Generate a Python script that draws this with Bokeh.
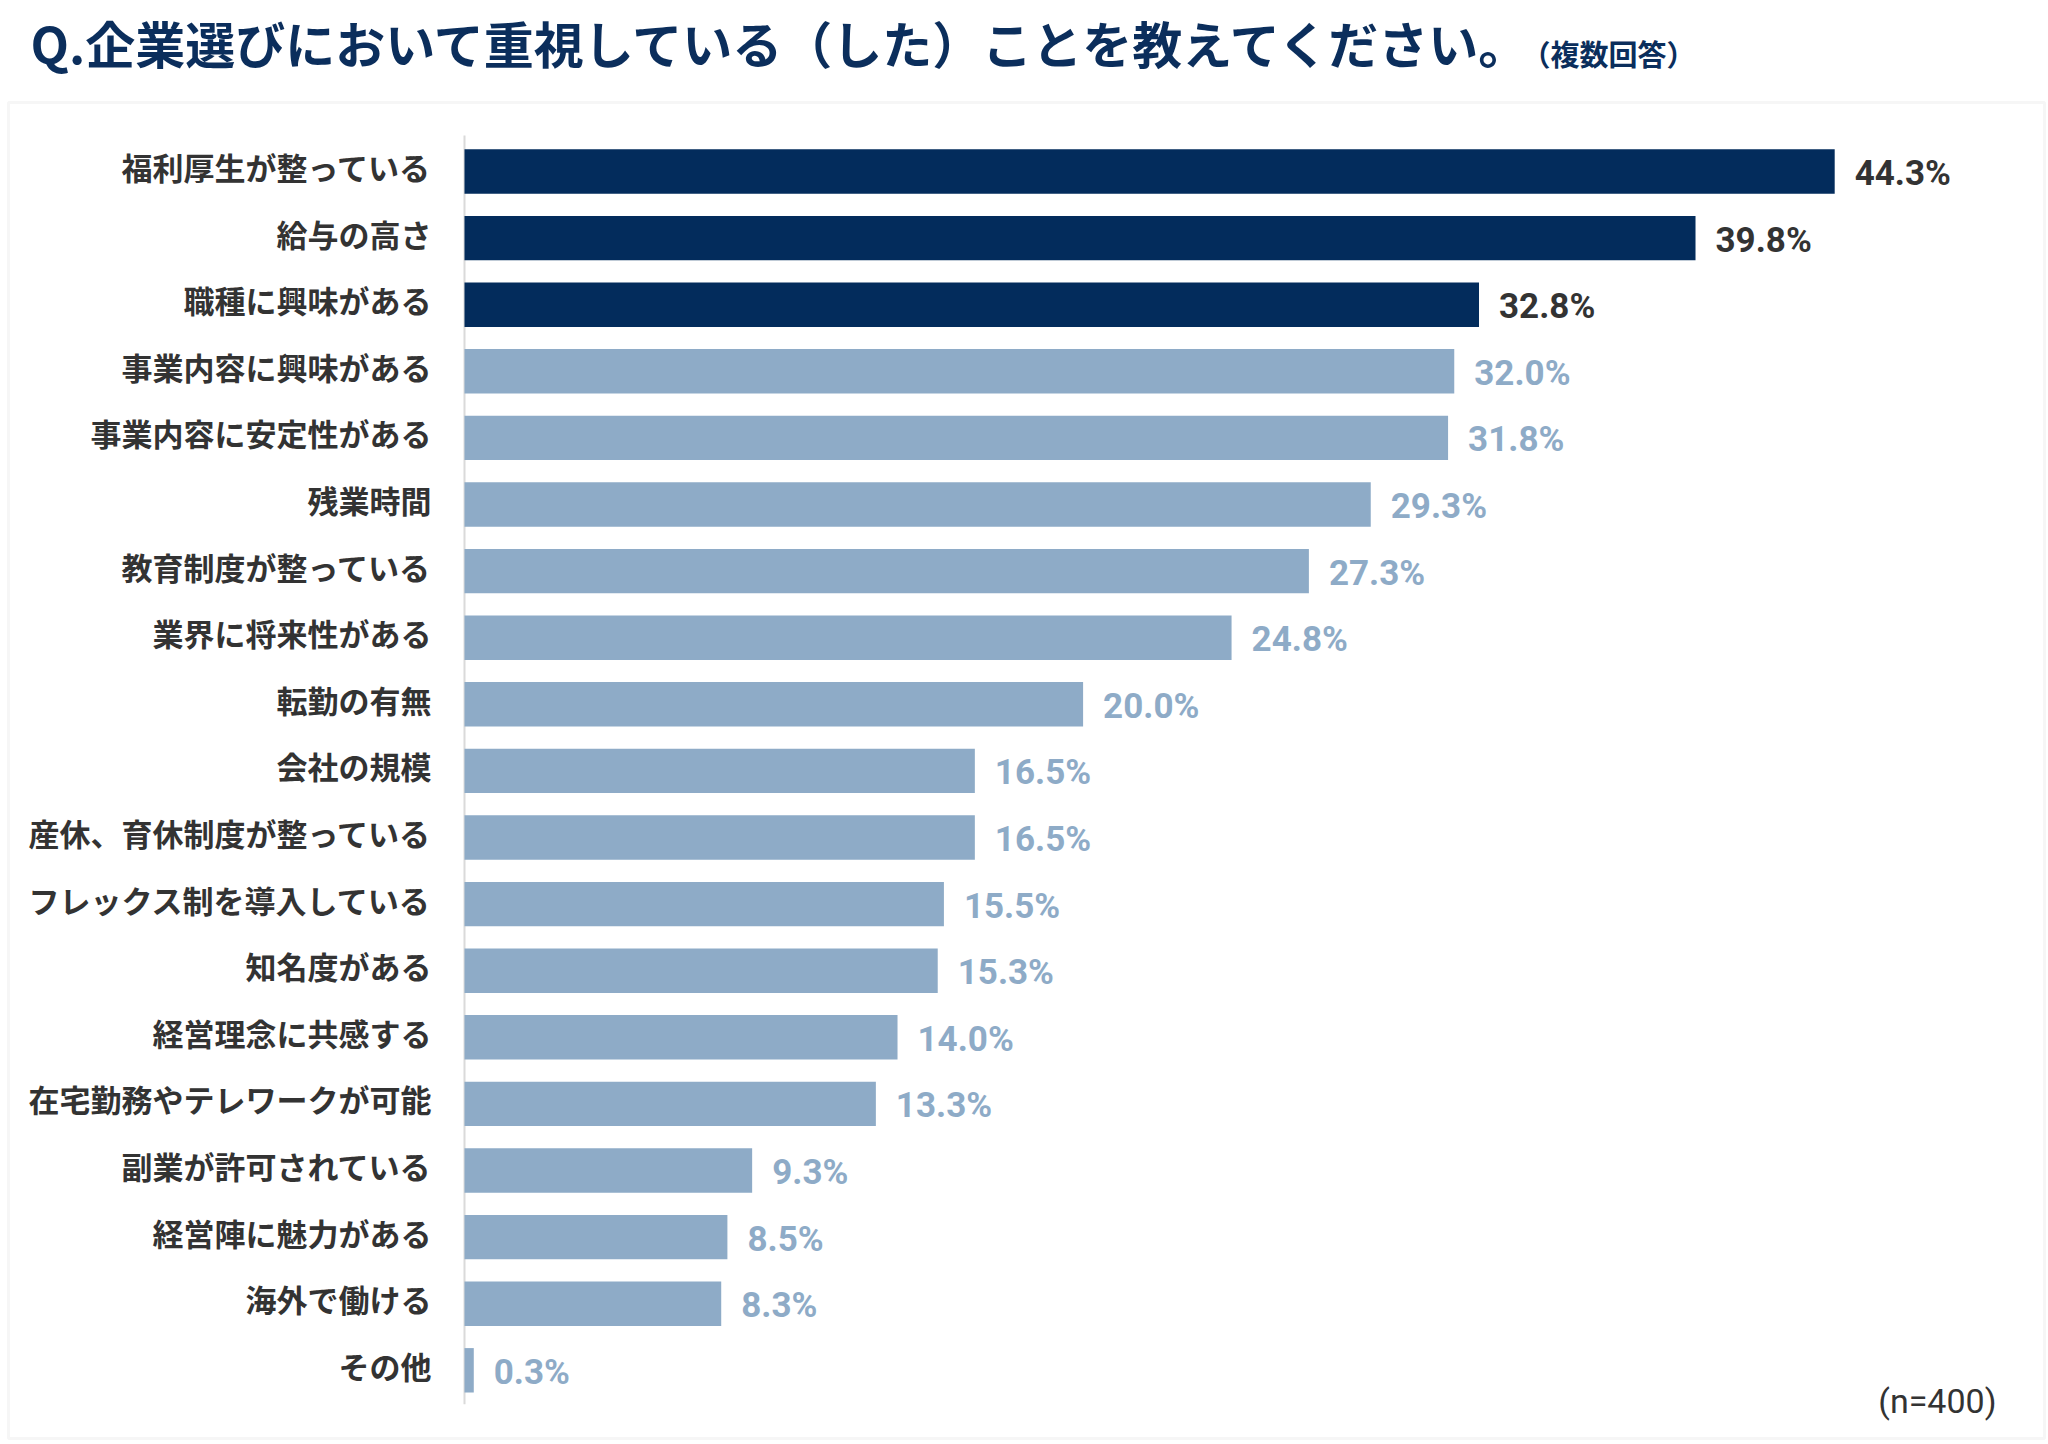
from bokeh.plotting import figure
from bokeh.models import ColumnDataSource, Range1d, Label, BoxAnnotation
from bokeh.core.properties import value
from bokeh.embed import file_html
from bokeh.resources import INLINE

categories = ["福利厚生が整っている", "給与の高さ", "職種に興味がある", "事業内容に興味がある",
              "事業内容に安定性がある", "残業時間", "教育制度が整っている", "業界に将来性がある",
              "転勤の有無", "会社の規模", "産休、育休制度が整っている", "フレックス制を導入している",
              "知名度がある", "経営理念に共感する", "在宅勤務やテレワークが可能", "副業が許可されている",
              "経営陣に魅力がある", "海外で働ける", "その他"]
values = [44.3, 39.8, 32.8, 32.0, 31.8, 29.3, 27.3, 24.8, 20.0, 16.5, 16.5, 15.5, 15.3,
          14.0, 13.3, 9.3, 8.5, 8.3, 0.3]
highlight_count = 3
title_text = "Q.企業選びにおいて重視している（した）ことを教えてください。"
subtitle_text = "（複数回答）"
note_text = "(n=400)"

DARK = "#032c5c"
LIGHT = "#8eabc7"
TEXT = "#333333"
NAVY = "#0b2e5c"

W, H = 2046, 1442
AXIS_PX = 464.0      # pixel position of the value axis
PX_PER_PCT = 30.93   # horizontal scale
FIRST_PX = 171.0     # centre of the first row
ROW_PX = 66.6        # row pitch

n = len(categories)
ypos = list(range(n))
bar_colors = [DARK if i < highlight_count else LIGHT for i in range(n)]
label_colors = [TEXT if i < highlight_count else LIGHT for i in range(n)]
labels = [f"{v:.1f}%" for v in values]

src = ColumnDataSource(dict(cat=categories, val=values, y=ypos, color=bar_colors,
                            lcolor=label_colors, label=labels))

p = figure(width=W, height=H, output_backend="svg", toolbar_location=None,
           x_range=Range1d(-AXIS_PX / PX_PER_PCT, (W - AXIS_PX) / PX_PER_PCT),
           y_range=Range1d((H - FIRST_PX) / ROW_PX, -FIRST_PX / ROW_PX),
           min_border=0)
p.outline_line_color = None
p.xgrid.visible = False
p.ygrid.visible = False
p.xaxis.visible = False
p.yaxis.visible = False

# panel border
box = BoxAnnotation(left=8, right=2044, top=H - 102, bottom=H - 1438,
                    left_units="screen", right_units="screen", top_units="screen", bottom_units="screen",
                    fill_color=None, fill_alpha=0, line_color="#e2e2e2", line_width=3, level="underlay")
p.add_layout(box)

# value axis line
p.segment(x0=[0], y0=[-0.54], x1=[0], y1=[n - 1 + 0.51], line_color="#dadada", line_width=2)

p.hbar(y="y", right="val", left=0, height=0.667, color="color", line_color=None, source=src)

# category labels
p.text(x=0, y="y", text="cat", source=src, x_offset=-33, y_offset=-5,
       text_align="right", text_baseline="middle",
       text_font=value("Noto Sans CJK JP"), text_font_style="bold", text_font_size="31px",
       text_color=TEXT)

# value labels
p.text(x="val", y="y", text="label", source=src, x_offset=20, y_offset=2,
       text_align="left", text_baseline="middle", text_color="lcolor",
       text_font=value("Roboto"), text_font_size="35px", text_font_style="bold")

p.add_layout(Label(x=30, y=H - 41, x_units="screen", y_units="screen", text=title_text,
                   text_font="Noto Sans CJK JP", text_font_style="bold", text_font_size="50px",
                   text_color=NAVY, text_baseline="middle", text_align="left"))
p.add_layout(Label(x=1521, y=H - 52, x_units="screen", y_units="screen", text=subtitle_text,
                   text_font="Noto Sans CJK JP", text_font_style="bold", text_font_size="29px",
                   text_color=NAVY, text_baseline="middle", text_align="left"))
p.add_layout(Label(x=1996, y=H - 1400, x_units="screen", y_units="screen", text=note_text,
                   text_font="Roboto", text_font_style="normal", text_font_size="34px",
                   text_color=TEXT, text_baseline="middle", text_align="right"))

open("out.html", "w").write(file_html(p, INLINE))
